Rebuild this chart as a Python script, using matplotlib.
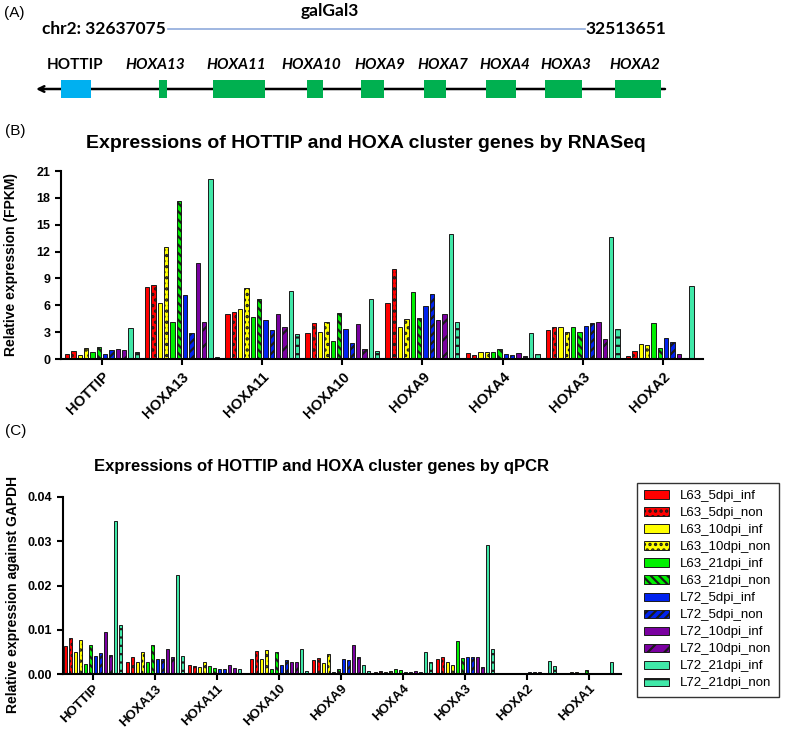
import numpy as np
import matplotlib
import matplotlib.pyplot as plt

matplotlib.use('Agg')
plt.rcParams['hatch.linewidth'] = 1.6

W, H = 787, 732

# ---- data ----
series = ['L63_5dpi_inf', 'L63_5dpi_non', 'L63_10dpi_inf', 'L63_10dpi_non',
          'L63_21dpi_inf', 'L63_21dpi_non', 'L72_5dpi_inf', 'L72_5dpi_non',
          'L72_10dpi_inf', 'L72_10dpi_non', 'L72_21dpi_inf', 'L72_21dpi_non']
colors = ['#FF0000', '#FF0000', '#FFFF00', '#FFFF00', '#00F000', '#00F000',
          '#0022EE', '#0022EE', '#7A00A0', '#7A00A0', '#40E8A8', '#40E8A8']
hatches = ['', '...', '', '...', '', '\\\\\\\\', '', '////', '', '//', '', '--']

# panel A schematic (positions along the drawn locus)
map_genes = ['HOTTIP', 'HOXA13', 'HOXA11', 'HOXA10', 'HOXA9', 'HOXA7', 'HOXA4', 'HOXA3', 'HOXA2']
map_start = [61, 159, 213, 307, 361, 424, 486, 545, 615]
map_end = [91, 167, 265, 323, 384, 446, 516, 582, 661]
map_label_x = [75, 155, 236, 311, 380, 443, 505, 566, 635]

# panel B: FPKM, rows = genes, columns = series
rna_genes = ['HOTTIP', 'HOXA13', 'HOXA11', 'HOXA10', 'HOXA9', 'HOXA4', 'HOXA3', 'HOXA2']
rna_fpkm = [
    [0.6, 0.85, 0.5, 1.26, 0.74, 1.3, 0.56, 1.0, 1.15, 1.0, 3.46, 0.82],
    [8.0, 8.25, 6.2, 12.5, 4.16, 17.7, 7.14, 2.94, 10.67, 4.16, 20.15, 0.19],
    [5.06, 5.2, 5.54, 7.88, 4.72, 6.69, 4.35, 3.2, 5.0, 3.6, 7.58, 2.83],
    [2.94, 3.98, 2.97, 4.16, 2.04, 5.13, 3.35, 1.82, 3.94, 1.12, 6.73, 0.86],
    [6.2, 10.07, 3.53, 4.46, 7.47, 4.54, 5.9, 7.3, 4.39, 5.06, 13.94, 4.16],
    [0.7, 0.48, 0.78, 0.74, 0.78, 1.15, 0.56, 0.45, 0.7, 0.33, 2.9, 0.56],
    [3.27, 3.57, 3.53, 2.97, 3.6, 3.0, 3.68, 3.98, 4.16, 2.27, 13.68, 3.35],
    [0.33, 0.86, 1.67, 1.52, 4.05, 1.23, 2.34, 1.9, 0.52, 0.0, 8.2, 0.0],
]

# panel C: qPCR relative to GAPDH
qpcr_genes = ['HOTTIP', 'HOXA13', 'HOXA11', 'HOXA10', 'HOXA9', 'HOXA4', 'HOXA3', 'HOXA2', 'HOXA1']
qpcr_rel = [
    [0.0063, 0.0082, 0.0050, 0.0077, 0.0023, 0.0066, 0.0042, 0.0047, 0.0095, 0.0044, 0.0345, 0.0110],
    [0.0028, 0.0040, 0.0028, 0.0050, 0.0027, 0.0066, 0.0034, 0.0034, 0.0056, 0.0038, 0.0223, 0.0041],
    [0.0022, 0.0019, 0.0016, 0.0027, 0.0019, 0.0014, 0.0012, 0.0011, 0.0021, 0.0015, 0.0011, 0.0002],
    [0.0034, 0.0052, 0.0035, 0.0054, 0.0011, 0.0050, 0.0022, 0.0033, 0.0028, 0.0027, 0.0057, 0.0008],
    [0.0033, 0.0037, 0.0025, 0.0046, 0.0005, 0.0011, 0.0034, 0.0032, 0.0067, 0.0040, 0.0021, 0.0007],
    [0.0005, 0.0007, 0.0006, 0.0007, 0.0013, 0.0009, 0.0006, 0.0006, 0.0007, 0.0005, 0.0050, 0.0028],
    [0.0034, 0.0038, 0.0027, 0.0020, 0.0076, 0.0036, 0.0040, 0.0038, 0.0039, 0.0017, 0.0292, 0.0057],
    [0.0002, 0.0004, 0.0003, 0.0002, 0.0000, 0.0001, 0.0006, 0.0006, 0.0006, 0.0002, 0.0031, 0.0018],
    [0.0002, 0.0002, 0.0005, 0.0005, 0.0002, 0.0009, 0.0002, 0.0002, 0.0002, 0.0001, 0.0028, 0.0002],
]


def fx(x):
    return x / W


def fy(y):
    return 1 - y / H


fig = plt.figure(figsize=(W / 100, H / 100), dpi=100)

# ---- panel A ----
axa = fig.add_axes([0, fy(112), 1, 112 / H])
axa.set_xlim(0, W)
axa.set_ylim(112, 0)
axa.axis('off')
fa = ['Lato', 'DejaVu Sans']
axa.text(4, 13, '(A)', fontsize=11, family='Liberation Sans', va='center')
axa.text(330, 11, 'galGal3', fontsize=12.5, weight='bold', family=fa, ha='center', va='center')
axa.text(166, 29, 'chr2: 32637075', fontsize=12.5, weight='bold', family=fa, ha='right', va='center')
axa.text(585, 29, '32513651', fontsize=12.5, weight='bold', family=fa, ha='left', va='center')
axa.plot([168, 585], [29, 29], color='#8FAADC', lw=1.2)
axa.annotate('', xy=(36, 89), xytext=(665, 89),
             arrowprops=dict(arrowstyle='->', lw=1.8, color='black', shrinkA=0, shrinkB=0))
starts = np.array(map_start)
ends = np.array(map_end)
box_cols = ['#00B0F0' if g == 'HOTTIP' else '#00B050' for g in map_genes]
axa.barh(89, ends - starts, left=starts, height=18, color=box_cols, zorder=3)
for g, lx in zip(map_genes, map_label_x):
    axa.text(lx, 65, g, fontsize=11, weight='bold', family=fa,
             style='normal' if g == 'HOTTIP' else 'italic', ha='center', va='center')


def grouped(ax, genes, table, pitch, width, lab_size):
    vals = np.array(table)
    x = np.arange(len(genes))
    for i in range(len(series)):
        ax.bar(x + (i - 5.5) * pitch, vals[:, i], width, color=colors[i],
               hatch=hatches[i], edgecolor='#1a1a1a', linewidth=0.7, label=series[i])
    ax.set_xticks(x)
    ax.set_xticklabels(genes, rotation=45, ha='right', rotation_mode='anchor',
                       fontsize=lab_size, weight='bold', family='Liberation Sans')
    for s in ['top', 'right']:
        ax.spines[s].set_visible(False)
    for s in ['left', 'bottom']:
        ax.spines[s].set_linewidth(1.5)
    ax.tick_params(width=1.5, length=4)
    for t in ax.get_yticklabels():
        t.set_fontweight('bold')
        t.set_family('Liberation Sans')


# ---- panel B ----
axb = fig.add_axes([fx(61), fy(359), (703 - 61) / W, 188 / H])
grouped(axb, rna_genes, rna_fpkm, 0.079, 0.054, 10.5)
axb.set_xlim(-0.51, 7.5)
axb.set_ylim(0, 21)
axb.set_yticks(range(0, 22, 3))
axb.tick_params(axis='y', labelsize=9)
axb.set_ylabel('Relative expression (FPKM)', fontsize=10, weight='bold', family='Liberation Sans')
axb.yaxis.set_label_coords(-0.067, 0.5)
fig.text(fx(5), fy(131), '(B)', fontsize=11, family='Liberation Sans', va='center')
fig.text(fx(366), fy(143), 'Expressions of HOTTIP and HOXA cluster genes by RNASeq',
         fontsize=14, weight='bold', family=['Liberation Sans Narrow', 'Liberation Sans'],
         ha='center', va='center')

# ---- panel C ----
axc = fig.add_axes([fx(62.7), fy(674.3), (620.7 - 62.7) / W, 177.6 / H])
grouped(axc, qpcr_genes, qpcr_rel, 0.081, 0.053, 9.5)
axc.set_xlim(-0.49, 8.51)
axc.set_ylim(0, 0.04)
axc.set_yticks([0, 0.01, 0.02, 0.03, 0.04])
axc.set_yticklabels(['0.00', '0.01', '0.02', '0.03', '0.04'], fontsize=9,
                    weight='bold', family='Liberation Sans')
axc.tick_params(axis='x', pad=2)
axc.set_ylabel('Relative expression against GAPDH', fontsize=10, weight='bold',
               family='Liberation Sans')
axc.yaxis.set_label_coords(-0.077, 0.45)
fig.text(fx(5), fy(431), '(C)', fontsize=11, family='Liberation Sans', va='center')
fig.text(fx(322), fy(467), 'Expressions of HOTTIP and HOXA cluster genes by qPCR',
         fontsize=12, weight='bold', family='Liberation Sans', ha='center', va='center')

handles, labels = axc.get_legend_handles_labels()
fig.legend(handles, labels, loc='upper left', bbox_to_anchor=(fx(637), fy(483)),
           borderaxespad=0, fancybox=False, edgecolor='#333333', framealpha=1,
           prop={'family': 'Liberation Sans', 'size': 9.5}, handlelength=1.9,
           handleheight=0.6, labelspacing=0.38, borderpad=0.55)

fig.savefig('out.png', dpi=100)
